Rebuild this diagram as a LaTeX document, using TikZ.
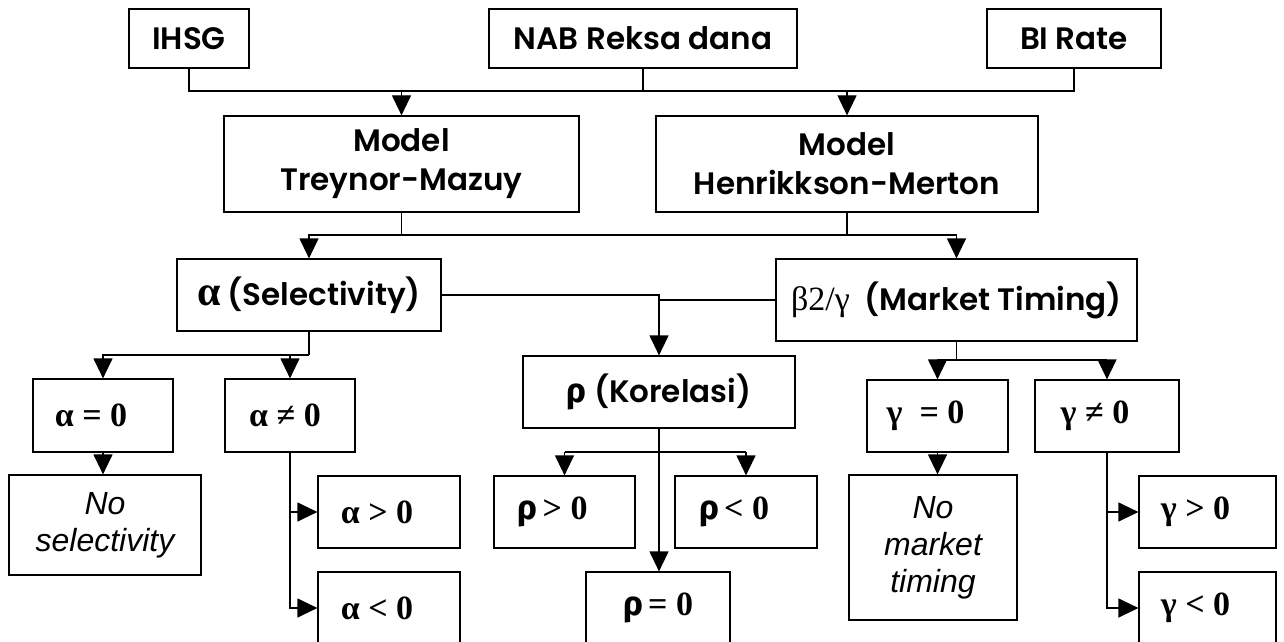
\documentclass[tikz,border=0pt]{standalone}
\usepackage{fontspec}
\setmainfont{Poppins}[BoldFont={Poppins SemiBold}]
\newfontfamily\tms{Liberation Serif}
\newfontfamily\ari{Liberation Sans}
\newfontfamily\fira{Fira Sans}
\usetikzlibrary{arrows.meta}

\newcommand{\mat}[1]{{\tms\bfseries\fontsize{17}{20}\selectfont #1}}
\newcommand{\korl}{{\fira\bfseries\fontsize{17}{20}\selectfont ρ}}

\begin{document}
\begin{tikzpicture}[x=0.5pt, y=-0.5pt, semithick,
    kotak/.style={draw, inner sep=0pt, align=center, font=\fontsize{15.5}{19.5}\selectfont\bfseries},
    miring/.style={kotak, font=\ari\itshape\fontsize{16}{18.5}\selectfont},
    panah/.style={-{Triangle[length=10pt, width=9.5pt]}}]
  \useasboundingbox (0, 0) rectangle (1284, 642);

  % input
  \node[kotak, minimum width=60pt, minimum height=29.5pt] (ihsg) at (189, 38.5) {IHSG};
  \node[kotak, minimum width=154pt, minimum height=29.5pt] (nab) at (643, 38.5) {NAB Reksa dana};
  \node[kotak, minimum width=87pt, minimum height=29.5pt] (bi) at (1074, 38.5) {BI Rate};

  % model
  \node[kotak, minimum width=177.5pt, minimum height=48pt] (treynor) at (401.5, 164) {Model\\Treynor-Mazuy};
  \node[kotak, minimum width=191pt, minimum height=48pt] (henrik) at (847, 164) {Model\\Henrikkson-Merton};

  \node[kotak, minimum width=132pt, minimum height=36pt] (sel) at (309, 295) {{\tms\fontsize{21}{20}\selectfont α} (Selectivity)};
  \node[kotak, minimum width=180.5pt, minimum height=41pt] (mt) at (956.5, 300) {{\tms\mdseries\fontsize{17}{20}\selectfont β2/γ}\ \ (Market Timing)};
  \node[kotak, minimum width=136pt, minimum height=36pt] (kor) at (659, 392) {\korl{} (Korelasi)};

  % alpha
  \node[kotak, minimum width=70pt, minimum height=36.5pt] (anol) at (103, 415.5) {\mat{α = 0}\hspace*{12pt}};
  \node[kotak, minimum width=65pt, minimum height=36.5pt] (atak) at (290, 415.5) {\mat{α ≠ 0}\hspace*{5pt}};
  \node[miring, minimum width=96pt, minimum height=50pt] (nosel) at (105, 525) {No\\selectivity};
  \node[kotak, minimum width=71pt, minimum height=36pt] (apos) at (389, 512) {\mat{α > 0}\hspace*{12pt}};
  \node[kotak, minimum width=71pt, minimum height=36pt] (aneg) at (389, 608) {\mat{α < 0}\hspace*{12pt}};

  % rho
  \node[kotak, minimum width=70.5pt, minimum height=36pt] (rpos) at (564.5, 512) {\korl\,\mat{> 0}\hspace*{12pt}};
  \node[kotak, minimum width=71pt, minimum height=36pt] (rneg) at (746, 512) {\korl\,\mat{< 0}\hspace*{12pt}};
  \node[kotak, minimum width=72pt, minimum height=36pt] (rnol) at (658, 608) {\korl\,\mat{= 0}};

  % gamma
  \node[kotak, minimum width=70.5pt, minimum height=36pt] (gnol) at (937.5, 416) {\mat{γ \ = 0}\hspace*{12pt}};
  \node[kotak, minimum width=72pt, minimum height=36pt] (gtak) at (1107, 416) {\mat{γ ≠ 0}\hspace*{12pt}};
  \node[miring, minimum width=84pt, minimum height=72.5pt] (nomt) at (933, 547.5) {No\\market\\timing};
  \node[kotak, minimum width=68.5pt, minimum height=36pt] (gpos) at (1207.5, 512) {\mat{γ > 0}\hspace*{12pt}};
  \node[kotak, minimum width=68.5pt, minimum height=36pt] (gneg) at (1207.5, 608) {\mat{γ < 0}\hspace*{12pt}};

  % connectors
  \coordinate (c1) at (0, 91);
  \coordinate (c2) at (0, 235);
  \coordinate (c3) at (0, 355);
  \coordinate (c4) at (0, 452);
  \coordinate (c5) at (0, 360);

  \draw (ihsg.south) |- (c1 -| bi.south) -- (bi.south);
  \draw (nab.south) -- (nab.south |- c1);
  \draw[panah] (c1 -| treynor.north) -- (treynor.north);
  \draw[panah] (c1 -| henrik.north) -- (henrik.north);

  \draw (treynor.south) -- (treynor.south |- c2);
  \draw (henrik.south) -- (henrik.south |- c2);
  \draw[panah] (c2 -| mt.north) -- (c2 -| sel.north) -- (sel.north);
  \draw[panah] (c2 -| mt.north) -- (mt.north);

  \draw[panah] (sel.east) -| (kor.north);
  \draw (mt.west) -- (mt.west -| kor.north);

  \draw (sel.south) -- (sel.south |- c3);
  \draw[panah] (sel.south |- c3) -| (anol.north);
  \draw[panah] (atak.north |- c3) -- (atak.north);
  \draw[panah] (anol.south) -- (anol.south |- nosel.north);
  \draw[panah] (atak.south) |- (aneg.west);
  \draw[panah] (atak.south |- apos.west) -- (apos.west);

  \draw[panah] (kor.south) -- (kor.south |- rnol.north);
  \draw (c4 -| rpos.north) -- (c4 -| rneg.north);
  \draw[panah] (c4 -| rpos.north) -- (rpos.north);
  \draw[panah] (c4 -| rneg.north) -- (rneg.north);

  \draw (mt.south) -- (mt.south |- c5);
  \draw[panah] (c5 -| gtak.north) -- (c5 -| gnol.north) -- (gnol.north);
  \draw[panah] (c5 -| gtak.north) -- (gtak.north);
  \draw[panah] (gnol.south) -- (gnol.south |- nomt.north);
  \draw[panah] (gtak.south) |- (gneg.west);
  \draw[panah] (gtak.south |- gpos.west) -- (gpos.west);
\end{tikzpicture}
\end{document}
